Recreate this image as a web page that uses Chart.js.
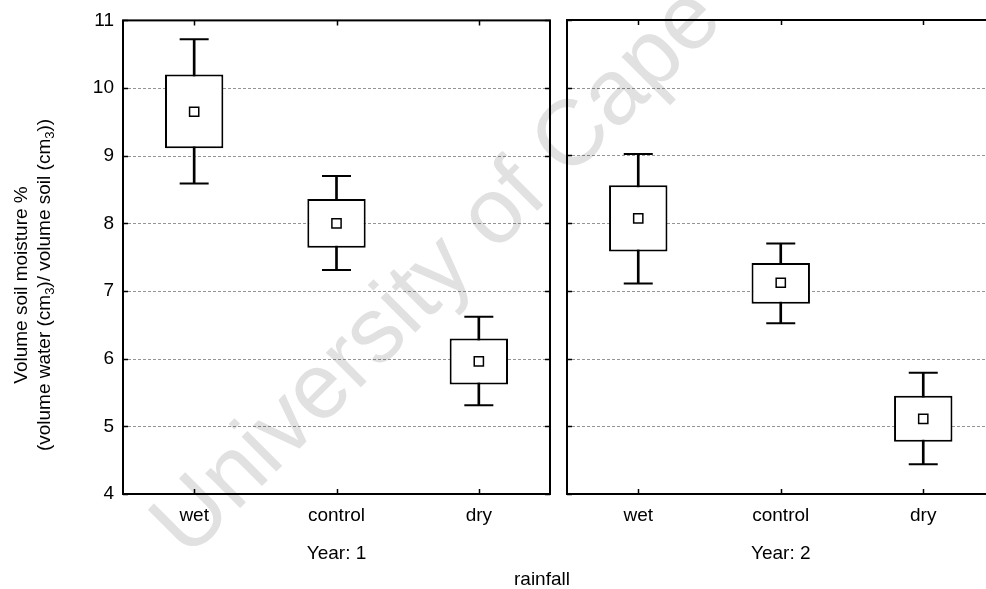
<!DOCTYPE html>
<html>
<head>
<meta charset="utf-8">
<title>Volume soil moisture by rainfall treatment</title>
<script src="https://cdn.jsdelivr.net/npm/chart.js@4.4.1/dist/chart.umd.min.js"></script>
<style>
  html, body { margin: 0; padding: 0; background: #fff; overflow: hidden; }
  #page { position: relative; width: 986px; height: 589px; overflow: hidden; background: #fff; }
  svg.layer { position: absolute; left: 0; top: 0; }
  canvas { position: absolute; top: 0; }
</style>
</head>
<body>
<div id="page">
  <svg class="layer" width="986" height="589">
    <text x="188" y="560" transform="rotate(-45 188 560)" font-size="93" fill="#e1e1e1"
          font-family="'Liberation Sans', Arial, sans-serif">University of Cape Town</text>
  </svg>
  <canvas id="year1" width="562" height="589" style="left:0px"></canvas>
  <canvas id="year2" width="460" height="589" style="left:557px"></canvas>
  <svg class="layer" width="986" height="589">
    <g font-size="19" fill="#000" font-family="'Liberation Sans', Arial, sans-serif" text-anchor="middle">
      <text transform="translate(27,285) rotate(-90)">Volume soil moisture %</text>
      <text transform="translate(50,285) rotate(-90)">(volume water (cm<tspan font-size="13" dy="4">3</tspan><tspan dy="-4">)/ volume soil (cm</tspan><tspan font-size="13" dy="4">3</tspan><tspan dy="-4">))</tspan></text>
      <text x="542" y="585">rainfall</text>
    </g>
  </svg>
</div>
<script>
// Rainfall treatments and tick values
const categories = ['wet', 'control', 'dry'];
const yearLabels = ['Year: 1', 'Year: 2'];
const yTicks = [4, 5, 6, 7, 8, 9, 10, 11];

// Year 1: mean, box (low/high) and whisker (low/high)
const year1Mean = [9.65, 8.00, 5.96];
const year1BoxLow = [9.11, 7.64, 5.62];
const year1BoxHigh = [10.20, 8.36, 6.30];
const year1WhiskerLow = [8.59, 7.31, 5.31];
const year1WhiskerHigh = [10.72, 8.70, 6.62];

// Year 2
const year2Mean = [8.07, 7.12, 5.11];
const year2BoxLow = [7.58, 6.81, 4.77];
const year2BoxHigh = [8.56, 7.41, 5.45];
const year2WhiskerLow = [7.11, 6.52, 4.44];
const year2WhiskerHigh = [9.02, 7.70, 5.79];

Chart.defaults.font.family = "'Liberation Sans', Arial, sans-serif";
Chart.defaults.color = '#000';

// Dotted grid behind the boxes, frame and inward tick marks on top
const panelFrame = {
  id: 'panelFrame',
  beforeDatasetsDraw(chart) {
    const { ctx, chartArea: a, scales: { y } } = chart;
    ctx.save();
    ctx.strokeStyle = 'rgba(0,0,0,0.42)';
    ctx.lineWidth = 1;
    ctx.setLineDash([3, 2]);
    y.ticks.forEach(t => {
      const py = Math.round(y.getPixelForValue(t.value)) + 0.5;
      ctx.beginPath();
      ctx.moveTo(a.left, py);
      ctx.lineTo(a.right, py);
      ctx.stroke();
    });
    ctx.restore();
  },
  afterDatasetsDraw(chart) {
    const { ctx, chartArea: a, scales: { x, y } } = chart;
    ctx.save();
    ctx.strokeStyle = '#000';
    ctx.lineWidth = 2;
    ctx.strokeRect(a.left, a.top, a.right - a.left, a.bottom - a.top);
    ctx.lineWidth = 1.5;
    ctx.beginPath();
    x.ticks.forEach((t, i) => {
      const px = Math.round(x.getPixelForTick(i)) + 0.5;
      ctx.moveTo(px, a.bottom); ctx.lineTo(px, a.bottom - 5);
      ctx.moveTo(px, a.top); ctx.lineTo(px, a.top + 5);
    });
    y.ticks.forEach(t => {
      const py = Math.round(y.getPixelForValue(t.value)) + 0.5;
      ctx.moveTo(a.left, py); ctx.lineTo(a.left + 5, py);
      ctx.moveTo(a.right, py); ctx.lineTo(a.right - 5, py);
    });
    ctx.stroke();
    ctx.restore();
  }
};

function makePanel(id, yearTitle, mean, boxLow, boxHigh, whiskerLow, whiskerHigh, showY, padding) {
  const pair = (lo, hi) => lo.map((v, i) => [v, hi[i]]);
  return new Chart(document.getElementById(id), {
    type: 'bar',
    data: {
      labels: categories,
      datasets: [
        {
          label: 'whisker',
          data: pair(whiskerLow, whiskerHigh),
          backgroundColor: '#000',
          borderWidth: 0,
          barThickness: 2,
          grouped: false,
          order: 4
        },
        {
          label: 'box',
          data: pair(boxLow, boxHigh),
          backgroundColor: '#fff',
          borderColor: '#000',
          borderWidth: 2,
          borderSkipped: false,
          categoryPercentage: 1,
          barPercentage: 0.41,
          grouped: false,
          order: 3
        },
        {
          type: 'line',
          label: 'upper cap',
          data: whiskerHigh,
          showLine: false,
          pointStyle: 'line',
          pointRadius: 14.5,
          pointBorderWidth: 2,
          pointBorderColor: '#000',
          order: 2
        },
        {
          type: 'line',
          label: 'lower cap',
          data: whiskerLow,
          showLine: false,
          pointStyle: 'line',
          pointRadius: 14.5,
          pointBorderWidth: 2,
          pointBorderColor: '#000',
          order: 2
        },
        {
          type: 'line',
          label: 'mean',
          data: mean,
          showLine: false,
          pointStyle: 'rect',
          pointRadius: 6.5,
          pointBorderWidth: 1.5,
          pointBorderColor: '#000',
          pointBackgroundColor: '#fff',
          order: 1
        }
      ]
    },
    options: {
      responsive: false,
      animation: false,
      events: [],
      layout: { padding: padding, autoPadding: false },
      plugins: { legend: { display: false }, tooltip: { enabled: false } },
      scales: {
        x: {
          offset: true,
          grid: { display: false, drawTicks: false, tickLength: 0 },
          border: { display: false },
          ticks: { font: { size: 19 }, padding: 10, color: '#000' },
          title: { display: true, text: yearTitle, font: { size: 19 }, color: '#000', padding: { top: 0, bottom: 24 } },
          afterFit: s => { s.height = 95; }
        },
        y: {
          min: 4,
          max: 11,
          afterBuildTicks: s => { s.ticks = yTicks.map(v => ({ value: v })); },
          grid: { display: false, drawTicks: false, tickLength: 0 },
          border: { display: false },
          ticks: { display: showY, font: { size: 19 }, padding: 9, color: '#000' },
          afterFit: s => { s.width = showY ? 123 : 0; }
        }
      }
    },
    plugins: [panelFrame]
  });
}

makePanel('year1', yearLabels[0], year1Mean, year1BoxLow, year1BoxHigh, year1WhiskerLow, year1WhiskerHigh,
  true, { left: 0, top: 20, right: 12, bottom: 0 });
makePanel('year2', yearLabels[1], year2Mean, year2BoxLow, year2BoxHigh, year2WhiskerLow, year2WhiskerHigh,
  false, { left: 10, top: 20, right: 22.5, bottom: 0 });
</script>
</body>
</html>
